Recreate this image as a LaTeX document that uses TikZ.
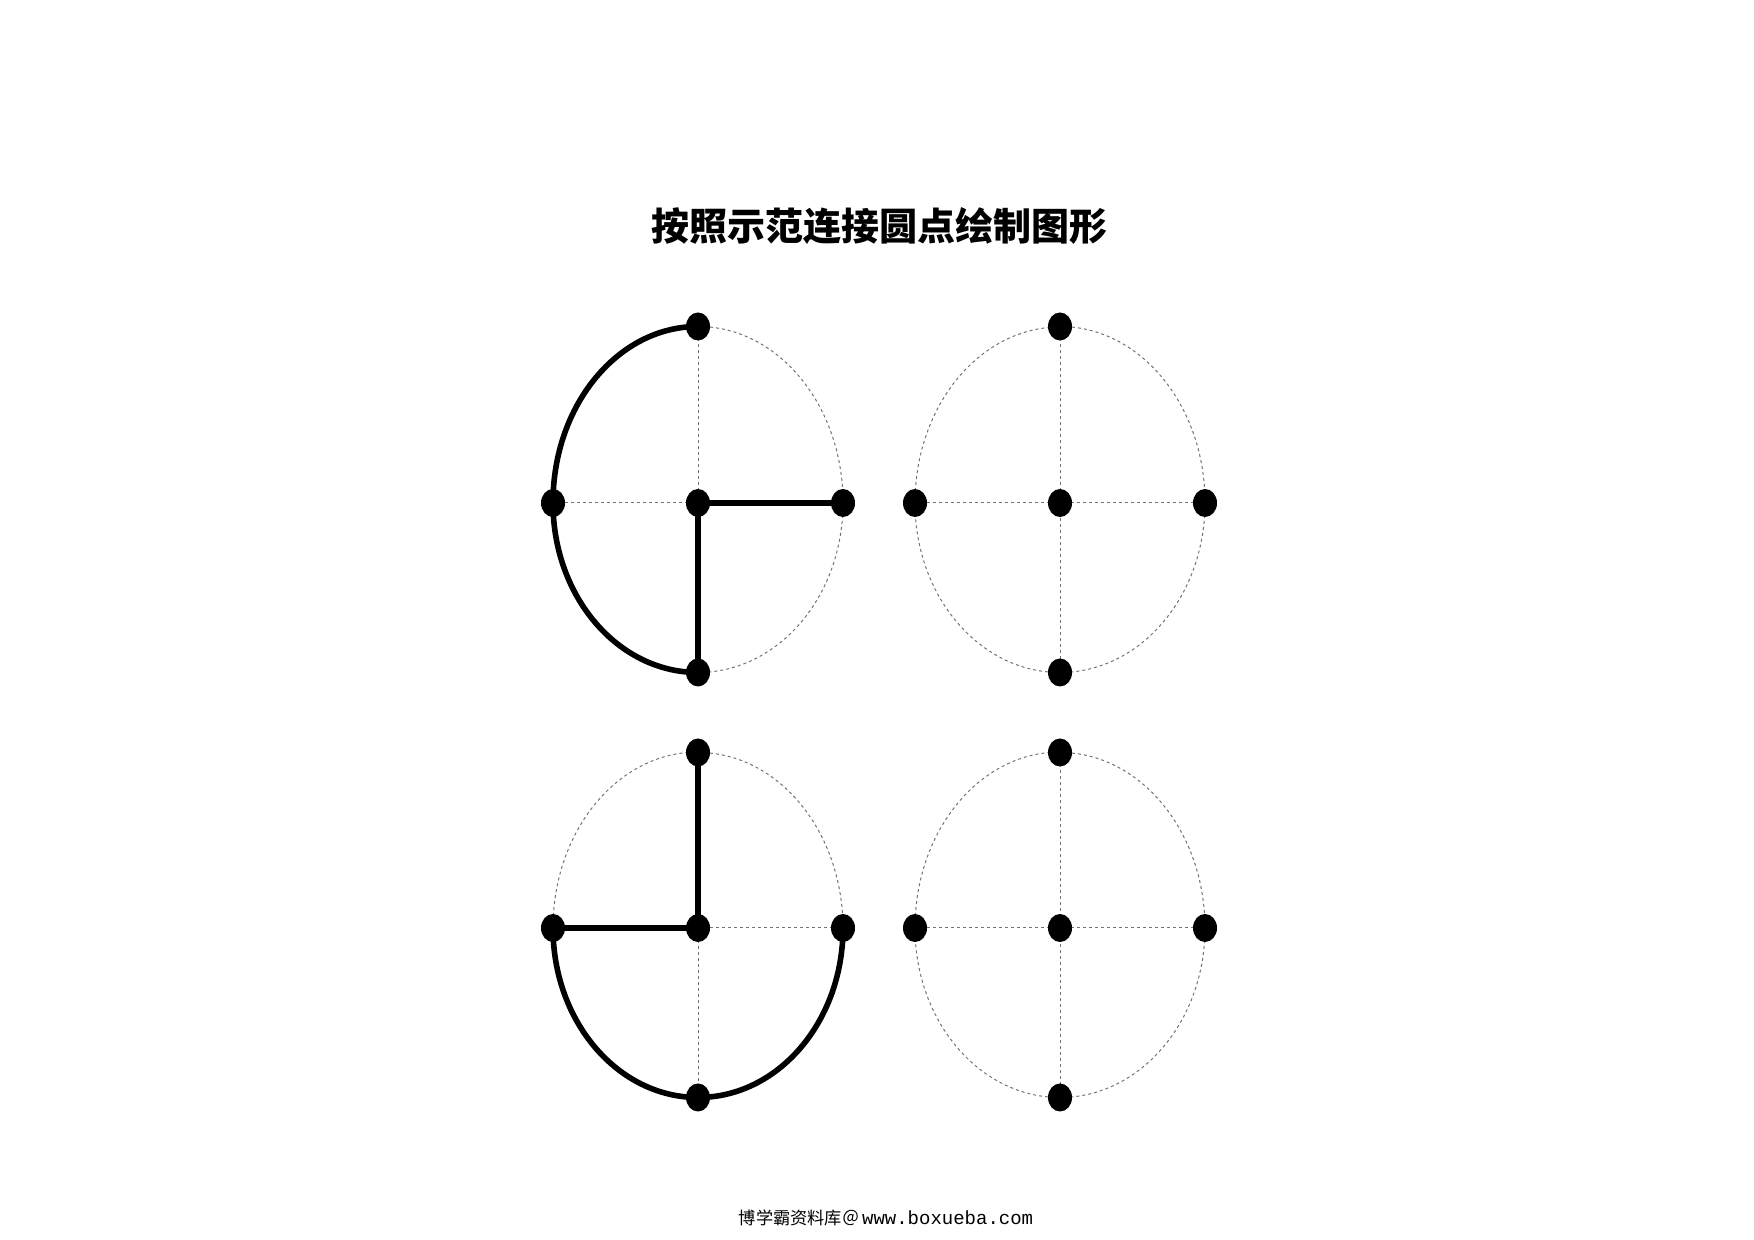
\documentclass[tikz,border=0pt]{standalone}
\usepackage{fontspec}
\setmonofont{Liberation Mono}
\newfontfamily\cjk{Noto Sans CJK SC}
\usepackage{tikz}
\usetikzlibrary{shapes.geometric, backgrounds}
\tikzstyle{dot} = [
    ellipse, fill=black, inner sep=0pt,
    minimum width=12pt, minimum height=14pt,
]
\tikzstyle{guide} = [
    gray!90!black, line width=0.5pt, dash pattern=on 1.5pt off 1.5pt,
]
\tikzstyle{stroke} = [line width=2.8pt, line cap=round]
\newcommand{\rx}{72.5pt}
\newcommand{\rtop}{88pt}
\newcommand{\rbot}{84.75pt}

\begin{document}
\begin{tikzpicture}[x=0.5pt, y=0.5pt]
    \useasboundingbox (0,0) rectangle (1754,1240);

    \node (title) at (879, 1014) {\cjk\bfseries\fontsize{19pt}{21pt}\selectfont 按照示范连接圆点绘制图形};
    \node (footer) at (886, 22) {\cjk\fontsize{8.6pt}{10pt}\selectfont 博学霸资料库＠\,\ttfamily\fontsize{9.5pt}{10pt}\selectfont www.boxueba.com};

    % example 1 (top left)
    \node (at) at (698, 913.5) [dot] {};
    \node (al) at (553, 737) [dot] {};
    \node (ac) at (698, 737) [dot] {};
    \node (ar) at (843, 737) [dot] {};
    \node (ab) at (698, 567.5) [dot] {};

    % to copy (top right)
    \node (bt) at (1060, 913.5) [dot] {};
    \node (bl) at (915, 737) [dot] {};
    \node (bc) at (1060, 737) [dot] {};
    \node (br) at (1205, 737) [dot] {};
    \node (bb) at (1060, 567.5) [dot] {};

    % example 2 (bottom left)
    \node (ct) at (698, 487.5) [dot] {};
    \node (cl) at (553, 312) [dot] {};
    \node (cc) at (698, 312) [dot] {};
    \node (cr) at (843, 312) [dot] {};
    \node (cb) at (698, 142.5) [dot] {};

    % to copy (bottom right)
    \node (dt) at (1060, 487.5) [dot] {};
    \node (dl) at (915, 312) [dot] {};
    \node (dc) at (1060, 312) [dot] {};
    \node (dr) at (1205, 312) [dot] {};
    \node (db) at (1060, 142.5) [dot] {};

    \begin{scope}[on background layer]
        % dotted guides
        \draw[guide] (at.center) arc[start angle=90, end angle=0, x radius=\rx, y radius=\rtop];
        \draw[guide] (ar.center) arc[start angle=0, end angle=-90, x radius=\rx, y radius=\rbot];
        \draw[guide] (at.center) -- (ac.center);
        \draw[guide] (al.center) -- (ac.center);

        \draw[guide] (bt.center) arc[start angle=90, end angle=0, x radius=\rx, y radius=\rtop];
        \draw[guide] (br.center) arc[start angle=0, end angle=-90, x radius=\rx, y radius=\rbot];
        \draw[guide] (bb.center) arc[start angle=270, end angle=180, x radius=\rx, y radius=\rbot];
        \draw[guide] (bl.center) arc[start angle=180, end angle=90, x radius=\rx, y radius=\rtop];
        \draw[guide] (bt.center) -- (bb.center);
        \draw[guide] (bl.center) -- (br.center);

        \draw[guide] (ct.center) arc[start angle=90, end angle=0, x radius=\rx, y radius=\rtop];
        \draw[guide] (cl.center) arc[start angle=180, end angle=90, x radius=\rx, y radius=\rtop];
        \draw[guide] (cc.center) -- (cr.center);
        \draw[guide] (cc.center) -- (cb.center);

        \draw[guide] (dt.center) arc[start angle=90, end angle=0, x radius=\rx, y radius=\rtop];
        \draw[guide] (dr.center) arc[start angle=0, end angle=-90, x radius=\rx, y radius=\rbot];
        \draw[guide] (db.center) arc[start angle=270, end angle=180, x radius=\rx, y radius=\rbot];
        \draw[guide] (dl.center) arc[start angle=180, end angle=90, x radius=\rx, y radius=\rtop];
        \draw[guide] (dt.center) -- (db.center);
        \draw[guide] (dl.center) -- (dr.center);

        % solid strokes
        \draw[stroke] (at.center) arc[start angle=90, end angle=180, x radius=\rx, y radius=\rtop];
        \draw[stroke] (al.center) arc[start angle=180, end angle=270, x radius=\rx, y radius=\rbot];
        \draw[stroke] (ac.center) -- (ar.center);
        \draw[stroke] (ac.center) -- (ab.center);

        \draw[stroke] (ct.center) -- (cc.center);
        \draw[stroke] (cc.center) -- (cl.center);
        \draw[stroke] (cl.center) arc[start angle=180, end angle=270, x radius=\rx, y radius=\rbot];
        \draw[stroke] (cb.center) arc[start angle=270, end angle=360, x radius=\rx, y radius=\rbot];
    \end{scope}
\end{tikzpicture}
\end{document}
